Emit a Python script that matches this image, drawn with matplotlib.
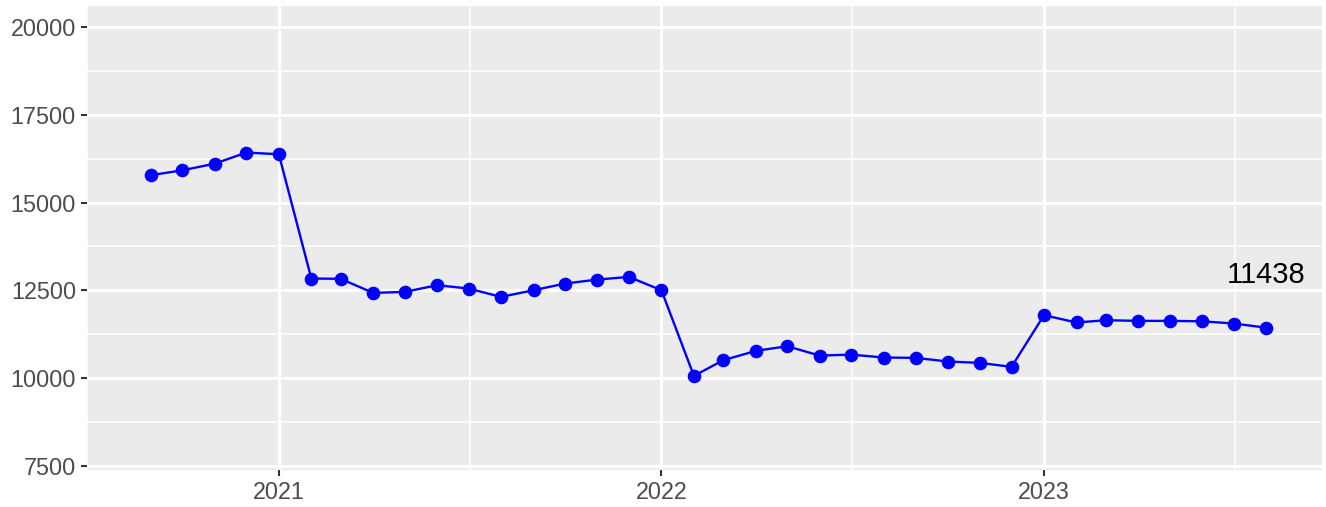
import pandas as pd
import matplotlib as mpl
mpl.use('Agg')
import matplotlib.pyplot as plt
import matplotlib.dates as mdates

# monthly values, Sep 2020 .. Aug 2023
start = '2020-09-01'
values = [15780, 15920, 16110, 16425,
          16377, 12838, 12830, 12429, 12457, 12648, 12553, 12315, 12505, 12695, 12809, 12884,
          12505, 10066, 10512, 10777, 10911, 10643, 10672, 10589, 10579, 10475, 10436, 10322,
          11794, 11586, 11651, 11632, 11632, 11620, 11557, 11438]
dates = pd.date_range(start, periods=len(values), freq='MS')
yticks = [7500, 10000, 12500, 15000, 17500, 20000]
xtick_years = ['2021', '2022', '2023']

plt.rcParams['font.family'] = ['Liberation Sans', 'DejaVu Sans']

W, H = 1326, 507
fig = plt.figure(figsize=(W/100, H/100), dpi=100)
# panel: x 87..1322, y 6..470 px
ax = fig.add_axes([87/W, 1-470/H, (1322-87)/W, (470-6)/H])
ax.set_facecolor('#EBEBEB')
for s in ax.spines.values():
    s.set_visible(False)

ax.plot(dates, values, color='#0000FF', lw=1.7, marker='o', ms=8.8, zorder=3)
ax.text(dates[-1], values[-1] + 1500, str(values[-1]), ha='center', va='center',
        fontsize=21, color='black', zorder=4)

# x limits with ggplot-style 5% expansion
x0 = mdates.date2num(dates[0]); x1 = mdates.date2num(dates[-1])
pad = (x1 - x0) * 0.05
ax.set_xlim(x0 - pad, x1 + pad)
ax.set_ylim(7386, 20598)

ax.set_yticks(yticks)
ax.set_yticks([8750, 11250, 13750, 16250, 18750], minor=True)
xt = [pd.Timestamp(y + '-01-01') for y in xtick_years]
ax.set_xticks(xt)
ax.set_xticklabels(xtick_years)
ax.set_xticks([pd.Timestamp('2020-07-02'), pd.Timestamp('2021-07-02'),
               pd.Timestamp('2022-07-02'), pd.Timestamp('2023-07-02')], minor=True)

ax.grid(which='major', color='white', lw=2.2)
ax.grid(which='minor', color='white', lw=1.1)
ax.set_axisbelow(True)
ax.tick_params(which='major', length=4.5, width=1.5, color='#333333',
               labelsize=16.8, labelcolor='#4D4D4D', pad=3.5)
ax.tick_params(which='minor', length=0)

fig.savefig('out.png', dpi=100)
